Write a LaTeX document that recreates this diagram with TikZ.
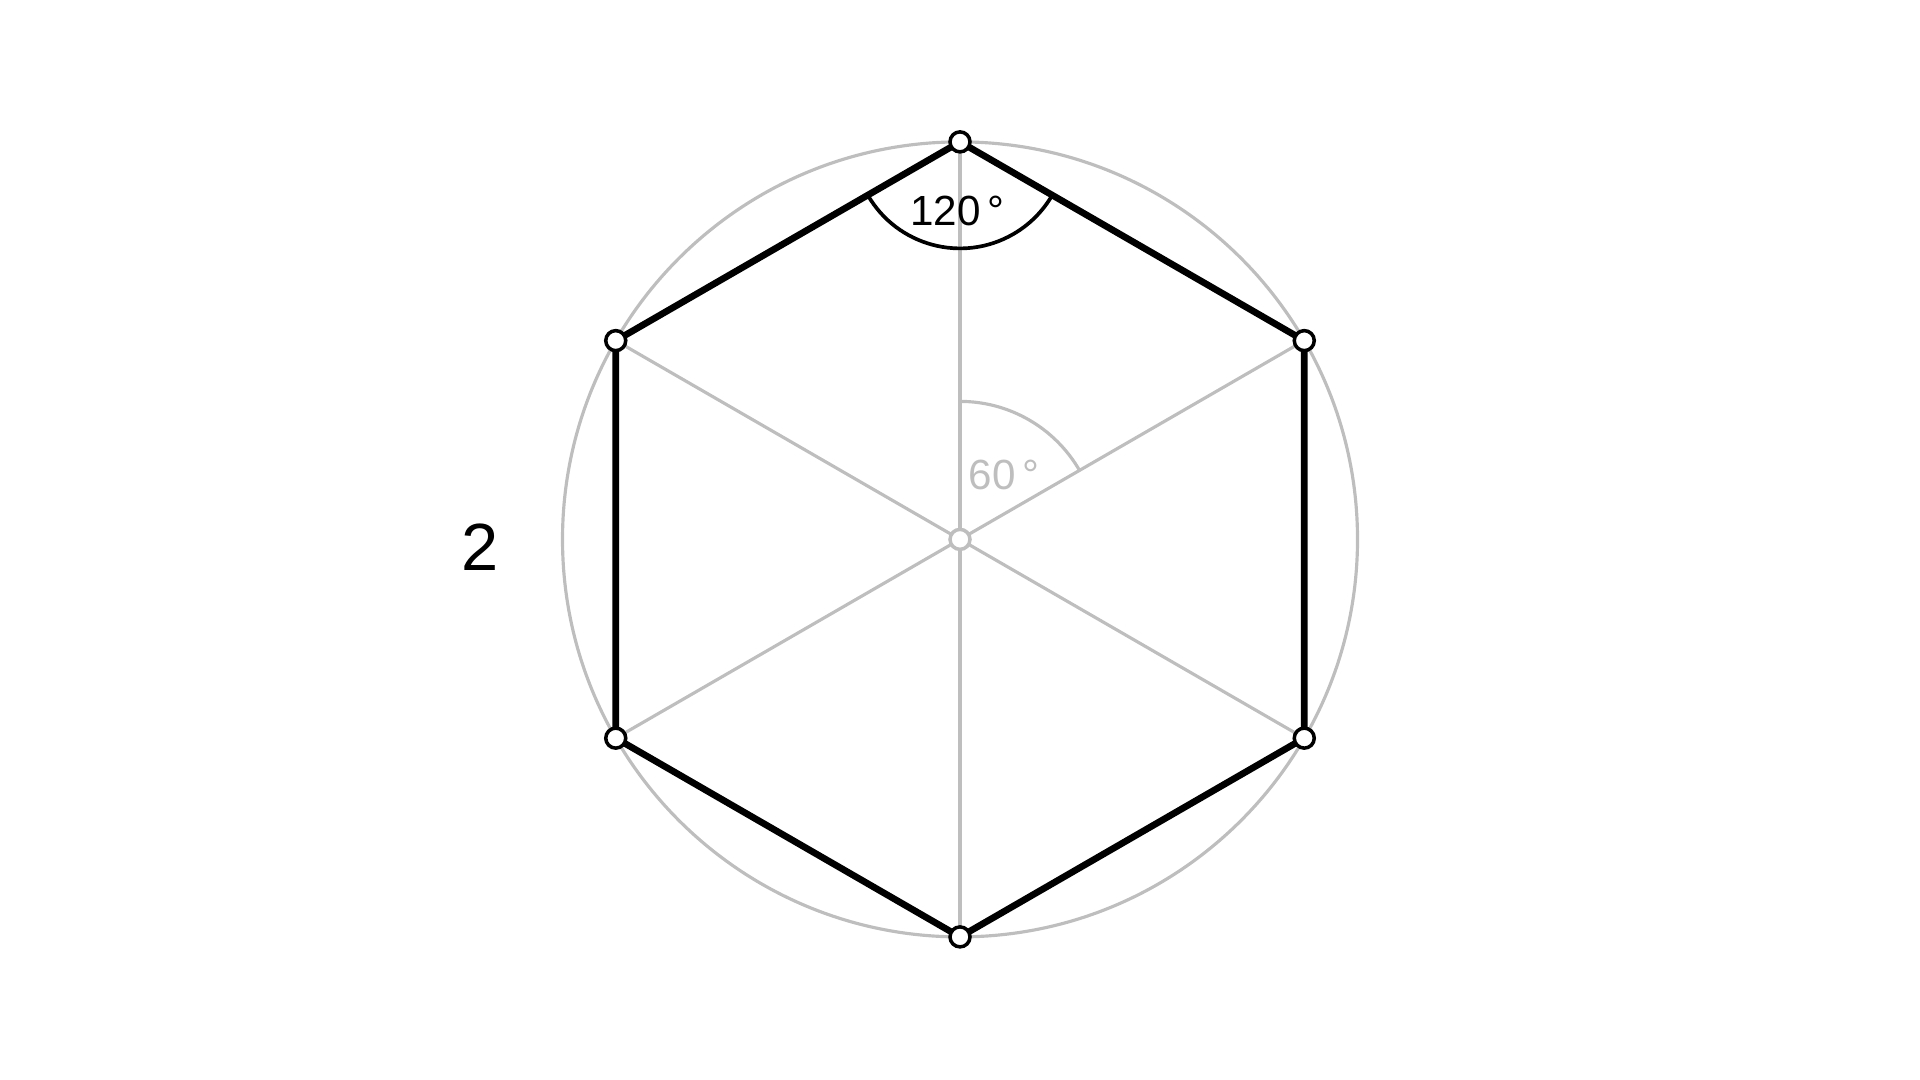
\documentclass[tikz,border=0pt]{standalone}
\usepackage{fontspec}
\setmainfont{Liberation Sans}
\usetikzlibrary{calc}
\definecolor{guia}{RGB}{190,190,190}
\tikzset{
  lado/.style={line width=1.9pt, black},
  guialinea/.style={line width=0.9pt, guia},
  vertice/.style={circle, draw=black, fill=white, line width=1pt, minimum size=0.2cm, inner sep=0pt},
  centro/.style={circle, draw=guia, fill=white, line width=1pt, minimum size=0.2cm, inner sep=0pt}
}
\begin{document}
\begin{tikzpicture}
\useasboundingbox (0,0) rectangle (19.2,10.8);
% Centro y vertices
\coordinate (O) at (9.6,5.406);
\foreach \i/\a in {1/90,2/30,3/-30,4/-90,5/-150,6/150}
  \coordinate (V\i) at ($(O)+(\a:3.975)$);
% Circunferencia
\draw[guialinea] (O) circle (3.975);
% Diagonales
\draw[guialinea] (V1) -- (V4);
\draw[guialinea] (V2) -- (V5);
\draw[guialinea] (V3) -- (V6);
% Angulo central
\draw[guialinea] (O) ++(90:1.38) arc[start angle=90, end angle=30, radius=1.38];
\node[text=guia, font=\fontsize{12}{14}\selectfont] (t60) at (10.04,6.05) {60\,°};
% Hexagono
\draw[lado] (V1) -- (V2) -- (V3) -- (V4) -- (V5) -- (V6) -- cycle;
% Angulo interior
\draw[line width=1.05pt] (V1) ++(-150:1.065) arc[start angle=-150, end angle=-30, radius=1.065];
\node[font=\fontsize{12}{14}\selectfont] (t120) at (9.576,8.694) {120\,°};
% Puntos
\foreach \i in {1,...,6}
  \node[vertice] (P\i) at (V\i) {};
\node[centro] (PO) at (O) {};
% Etiqueta
\node[font=\fontsize{19}{22}\selectfont] (num) at (4.80,5.33) {2};
\end{tikzpicture}
\end{document}
